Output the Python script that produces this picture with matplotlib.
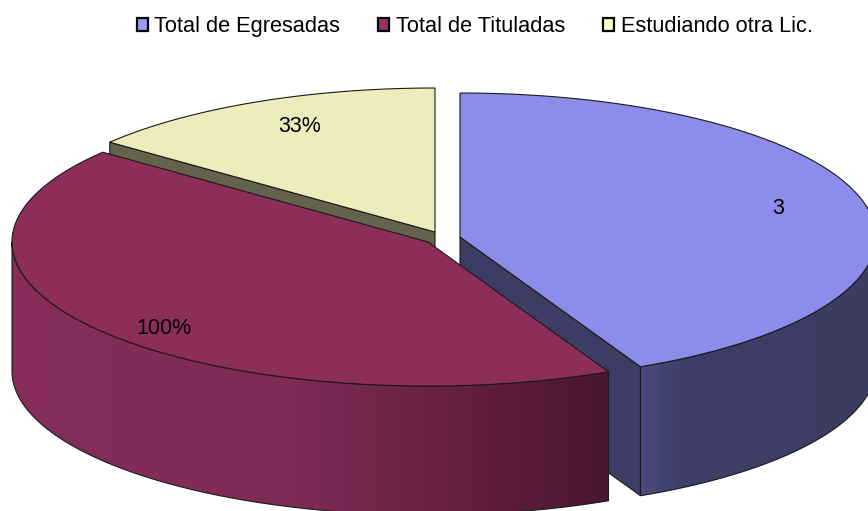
import numpy as np
import matplotlib
matplotlib.use("Agg")
import matplotlib.pyplot as plt
from matplotlib.patches import Patch, Polygon
from matplotlib.colors import to_rgb

categories = ["Total de Egresadas", "Total de Tituladas", "Estudiando otra Lic."]
values = [3, 3, 1]
value_labels = ["3", "100%", "33%"]
legend_colors = ["#9999FF", "#993366", "#FFFFCC"]
top_colors = ["#8C8CEB", "#8C2D5A", "#ECECBC"]
face_colors = ["#3C3C64", "#4A1530", "#63634B"]

FONT = "Liberation Sans"
A, B, DEPTH = 416.0, 144.0, 129.0
centers = [(460, 237), (428, 242), (435, 232)]
label_pos = [(778, 209), (164, 329), (300, 127)]
EDGE = "#1a1a1a"

fig = plt.figure(figsize=(8.68, 5.11), dpi=100)
ax = fig.add_axes([0, 0, 1, 1])
ax.axis("off")

frac = np.cumsum([0] + values) / sum(values) * 2 * np.pi
starts, ends = frac[:-1], frac[1:]


def rim(c, t):
    return c[0] + A * np.sin(t), c[1] - B * np.cos(t)


def top(i, z):
    t = np.linspace(starts[i], ends[i], 200)
    x, y = rim(centers[i], t)
    pts = np.column_stack([np.r_[centers[i][0], x], np.r_[centers[i][1], y]])
    ax.add_patch(Polygon(pts, closed=True, fc=top_colors[i], ec=EDGE, lw=0.8, zorder=z))


def cut_face(i, t, z):
    c = centers[i]
    x, y = rim(c, t)
    pts = [(c[0], c[1]), (x, y), (x, y + DEPTH), (c[0], c[1] + DEPTH)]
    ax.add_patch(Polygon(pts, closed=True, fc=face_colors[i], ec=EDGE, lw=0.8, zorder=z))


def side(i, t0, t1, stops, z):
    c = centers[i]
    xs = [s[0] for s in stops]
    rgb = np.array([to_rgb(s[1]) for s in stops])
    t = np.linspace(t0, t1, 300)
    x, y = rim(c, t)
    pts = np.column_stack([np.r_[x, x[::-1]], np.r_[y, (y + DEPTH)[::-1]]])
    outline = Polygon(pts, closed=True, fc="none", ec=EDGE, lw=0.8, zorder=z + 0.1)
    ax.add_patch(outline)
    x0, x1 = x.min(), x.max()
    grid = np.linspace(x0, x1, 600)
    img = np.stack([np.interp(grid, xs, rgb[:, k]) for k in range(3)], axis=-1)[None, :, :]
    im = ax.imshow(img, extent=(x0, x1, y.max() + DEPTH, y.min()), aspect="auto",
                   interpolation="bilinear", zorder=z)
    im.set_clip_path(outline)


# yellow slice (furthest back)
cut_face(2, starts[2], 1)
top(2, 2)
# blue slice
cut_face(0, ends[0], 3)
side(0, np.pi / 2, ends[0], [(642, "#4A4A80"), (685, "#3E3E68"), (880, "#3C3C62")], 4)
top(0, 5)
# red slice
side(1, starts[1], 1.5 * np.pi,
     [(11, "#862D5A"), (300, "#7E2A54"), (450, "#672043"), (608, "#4A1530")], 6)
top(1, 7)

ax.set_xlim(0, 868)
ax.set_ylim(511, 0)

for lbl, (x, y) in zip(value_labels, label_pos):
    ax.text(x, y, lbl, fontsize=15.5, family=FONT, color="black", ha="center", va="center", zorder=10)

handles = [Patch(fc=c, ec="black", lw=1.6) for c in legend_colors]
ax.legend(handles, categories, loc="upper center", bbox_to_anchor=(0.547, 1.0), ncol=3, frameon=False,
          prop={"family": FONT, "size": 15.7}, handlelength=0.5, handleheight=0.5,
          handletextpad=0.3, columnspacing=1.75, borderpad=0.3, borderaxespad=0.45)

fig.savefig("out.png", dpi=100)
